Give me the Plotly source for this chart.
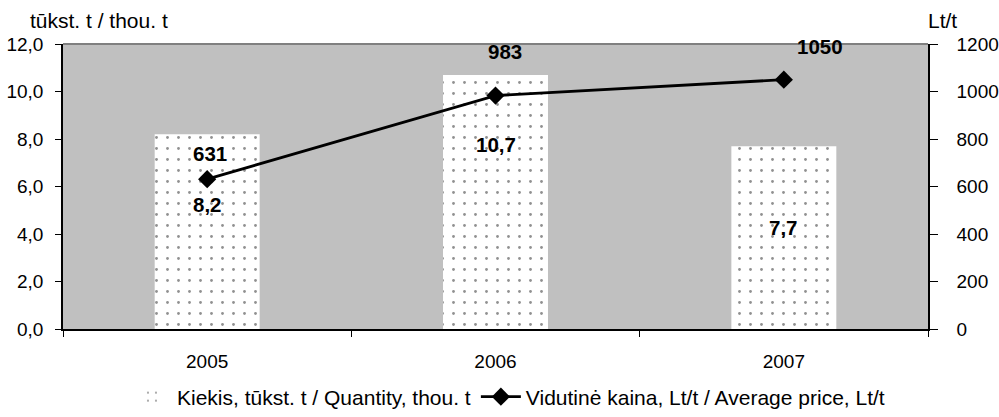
import plotly.graph_objects as go

years = ["2005", "2006", "2007"]
quantity = [8.2, 10.7, 7.7]          # tūkst. t / thou. t
price = [631, 983, 1050]             # Lt/t
left_ticks = [0, 2, 4, 6, 8, 10, 12]
right_ticks = [0, 200, 400, 600, 800, 1000, 1200]

# label offsets (pixels) - style only
bar_label_shift = [-70, -70, -81]
line_label_yshift = [26, 44, 33]
line_label_xshift = [3, 9, 36]

FONT = "Liberation Sans, Arial, sans-serif"

fig = go.Figure()
fig.add_trace(go.Bar(
    x=years, y=quantity, name="Kiekis, tūkst. t / Quantity, thou. t",
    width=0.364,
    marker=dict(color="white", line=dict(color="#a0a0a0", width=0),
                pattern=dict(shape=".", fgcolor="#222222", bgcolor="white",
                             size=11, solidity=0.05)),
    yaxis="y",
))
fig.add_trace(go.Scatter(
    x=years, y=price, name="Vidutinė kaina, Lt/t / Average price, Lt/t",
    mode="lines+markers",
    line=dict(color="black", width=2.8),
    marker=dict(symbol="diamond", size=14, color="black"),
    yaxis="y2",
))

annotations = []
for i, q in enumerate(quantity):
    annotations.append(dict(
        x=i, y=q, xref="x", yref="y", text="<b>%s</b>" % ("%.1f" % q).replace(".", ","),
        showarrow=False, yshift=bar_label_shift[i],
        font=dict(family=FONT, size=20.5, color="black")))
for i, p in enumerate(price):
    annotations.append(dict(
        x=i, y=p, xref="x", yref="y2", text="<b>%d</b>" % p,
        showarrow=False, yshift=line_label_yshift[i], xshift=line_label_xshift[i],
        font=dict(family=FONT, size=20.5, color="black")))
annotations.append(dict(x=-0.0405, y=1.084, xref="paper", yref="paper", xanchor="left",
                        yanchor="middle", text="tūkst. t / thou. t", showarrow=False,
                        font=dict(family=FONT, size=21, color="black")))
annotations.append(dict(x=1.0173, y=1.084, xref="paper", yref="paper", xanchor="center",
                        yanchor="middle", text="Lt/t", showarrow=False,
                        font=dict(family=FONT, size=21, color="black")))

fig.update_layout(
    width=999, height=417,
    margin=dict(l=63, r=71, t=44, b=88, autoexpand=False),
    paper_bgcolor="white", plot_bgcolor="#C0C0C0",
    separators=",.",
    font=dict(family=FONT, size=19, color="black"),
    showlegend=True,
    legend=dict(orientation="h", x=0.515, xanchor="center", y=-0.2386, yanchor="middle",
                font=dict(family=FONT, size=21), itemwidth=40, tracegroupgap=0,
                bgcolor="rgba(0,0,0,0)"),
    xaxis=dict(type="category", range=[-0.5, 2.5], showgrid=False, showline=True,
               linecolor="black", linewidth=1.5, ticks="outside", tickson="boundaries",
               ticklen=6, tickcolor="black", ticklabelstandoff=14, zeroline=False),
    yaxis=dict(range=[0, 12], tickvals=left_ticks, tickformat=".1f", showgrid=False,
               showline=True, linecolor="black", linewidth=1.5, ticks="outside",
               ticklen=6, tickcolor="black", zeroline=False, ticklabelstandoff=8),
    yaxis2=dict(range=[0, 1200], tickvals=right_ticks, overlaying="y", side="right",
                showgrid=False, showline=True, linecolor="black", linewidth=1.5,
                ticks="outside", ticklen=8, tickcolor="black", zeroline=False,
                ticklabelstandoff=15),
    annotations=annotations,
    shapes=[dict(type="line", xref="paper", yref="paper", x0=0, x1=1, y0=1, y1=1,
                 line=dict(color="#808080", width=2))],
)

fig.write_html(
    "out.html",
    config={"displayModeBar": False},
    post_script="document.body.style.margin='0';"
                "document.body.style.overflow='hidden';"
                "document.documentElement.style.overflow='hidden';",
)
